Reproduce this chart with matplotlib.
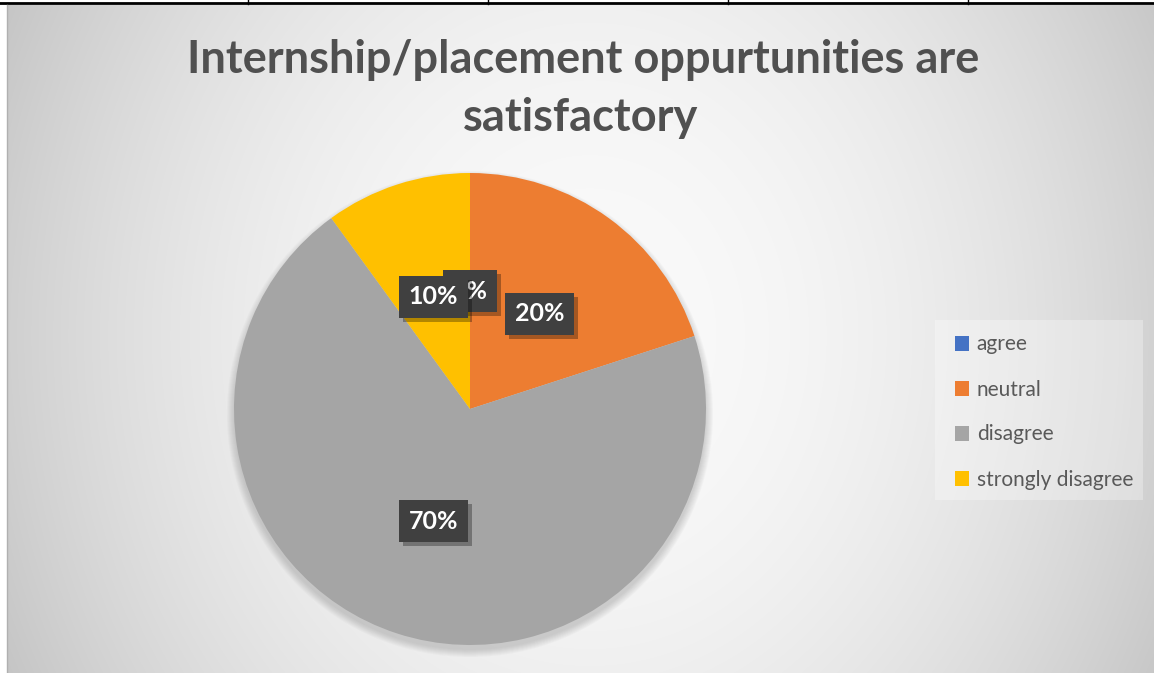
import numpy as np
import matplotlib
matplotlib.use("Agg")
import matplotlib.pyplot as plt
import matplotlib.patheffects as pe
from matplotlib.patches import Rectangle, Circle

categories = ["agree", "neutral", "disagree", "strongly disagree"]
shares = [0, 20, 70, 10]
colors = ["#4472C4", "#ED7D31", "#A5A5A5", "#FFC000"]
title_lines = ["Internship/placement oppurtunities are", "satisfactory"]

W, H = 1154, 673
plt.rcParams["font.family"] = ["Lato", "DejaVu Sans"]


def Y(v):
    # image pixel row -> data y (y up)
    return H - v


fig = plt.figure(figsize=(W / 100, H / 100), dpi=100)
ax = fig.add_axes([0, 0, 1, 1])

# background radial gradient
xs = np.arange(7, W) + 0.5
ys = np.arange(5, H) + 0.5
gx, gy = np.meshgrid(xs, ys)
d2 = ((gx - 590) / 600) ** 2 + ((gy - 336) / 700) ** 2
g = np.clip(250 - 45 * d2, 180, 250) / 255
ax.imshow(np.dstack([g, g, g]), extent=(7, W, Y(H), Y(5)), origin="upper",
          interpolation="bilinear", zorder=0)

# table lines along the top and left edge
ax.plot([0, W], [Y(3), Y(3)], color="black", lw=2, zorder=1)
for x in [248, 488, 728, 968]:
    ax.plot([x, x], [Y(0), Y(4)], color="black", lw=1, zorder=1)
ax.plot([6.5, 6.5], [Y(5), Y(H)], color="#b0b0b0", lw=1, zorder=1)

# soft pie shadow
cx, cy, r = 470, Y(409), 236
for k in range(8):
    ax.add_patch(Circle((cx, cy - 5), r + k, color="#606060", alpha=0.035,
                        lw=0, zorder=1))

wedges, texts, autotexts = ax.pie(
    shares, colors=colors, startangle=90, counterclock=False,
    center=(cx, cy), radius=r, frame=True, autopct="%1.0f%%",
    pctdistance=0.5, wedgeprops=dict(linewidth=0),
    textprops=dict(color="white", fontsize=18, fontweight="bold"))
for w in wedges:
    w.set_zorder(2)
for t in autotexts:
    t.set_zorder(3)
    t.set_bbox(dict(boxstyle="square,pad=0.38", facecolor="#404040",
                    edgecolor="none", linewidth=0))
    t.get_bbox_patch().set_path_effects(
        [pe.SimplePatchShadow(offset=(3, -3), shadow_rgbFace="black", alpha=0.3),
         pe.Normal()])

# legend with lighter panel
ax.add_patch(Rectangle((935, Y(500)), 208, 180, facecolor="white", alpha=0.3,
                       lw=0, zorder=1))
leg = ax.legend(wedges, categories, loc="center left",
                bbox_to_anchor=(936, Y(412)), bbox_transform=ax.transData,
                frameon=False, fontsize=15, handlelength=0.7,
                handleheight=0.7, handletextpad=0.35, labelspacing=1.2)
for t in leg.get_texts():
    t.set_color("#595959")

# title, scaled to the reference width
fig.canvas.draw()
renderer = fig.canvas.get_renderer()
t1 = ax.text(583, Y(73), title_lines[0], ha="center", va="baseline",
             fontsize=36, fontweight="bold", color="#505050", zorder=4)
w1 = t1.get_window_extent(renderer).width
fs = 36 * 790 / w1
t1.set_fontsize(fs)
ax.text(581, Y(131), title_lines[1], ha="center", va="baseline",
        fontsize=fs, fontweight="bold", color="#505050", zorder=4)

ax.set_xlim(0, W)
ax.set_ylim(0, H)
ax.axis("off")

fig.savefig("out.png", dpi=100, facecolor="white")
